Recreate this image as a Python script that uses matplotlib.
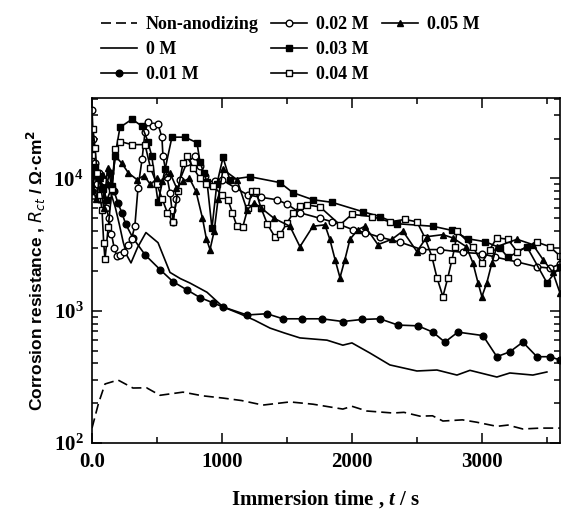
import numpy as np
import matplotlib
matplotlib.use('Agg')
import matplotlib.pyplot as plt
from matplotlib.ticker import MultipleLocator, LogLocator, NullFormatter
from matplotlib.lines import Line2D

plt.rcParams['font.family'] = 'Liberation Serif'
plt.rcParams['mathtext.fontset'] = 'custom'
plt.rcParams['mathtext.rm'] = 'Liberation Serif:bold'
plt.rcParams['mathtext.bf'] = 'Liberation Serif:bold'
plt.rcParams['mathtext.it'] = 'Liberation Serif:bold:italic'

# 数据
t_na = [0, 50, 100, 200, 315, 420, 523, 700, 850, 1010, 1150, 1315, 1523, 1700, 1930, 2000,
        2115, 2315, 2400, 2523, 2620, 2700, 2850, 2960, 3115, 3200, 3315, 3450, 3600]
r_na = [130, 200, 280, 300, 261, 262, 230, 243, 228, 219, 210, 194, 205, 197, 181, 190,
        175, 169, 171, 160, 161, 147, 150, 144, 134, 137, 128, 130, 130]

t_0 = [0, 30, 60, 90, 120, 150, 180, 210, 240, 270, 300, 350, 415, 508, 600, 680, 754, 885,
       1008, 1138, 1250, 1370, 1480, 1600, 1808, 1930, 2000, 2138, 2292, 2500, 2654, 2808,
       2908, 3115, 3215, 3392, 3500]
r_0 = [9000, 12000, 8000, 11000, 9000, 7500, 6000, 4500, 3300, 2600, 2300, 3000, 3900, 3270,
       1950, 1750, 1620, 1380, 1070, 950, 850, 740, 680, 624, 600, 550, 572, 480, 390, 351,
       357, 327, 355, 316, 339, 327, 345]

t_01 = [0, 25, 50, 80, 110, 140, 170, 200, 230, 260, 315, 408, 523, 623, 730, 830, 930, 1008,
        1192, 1346, 1470, 1615, 1770, 1930, 2077, 2215, 2354, 2508, 2623, 2715, 2815, 3008,
        3115, 3215, 3315, 3423, 3523, 3600]
r_01 = [8000, 11000, 7000, 10000, 9000, 11000, 8000, 6500, 5500, 4500, 3550, 2650, 2050, 1660,
        1440, 1260, 1150, 1070, 930, 950, 870, 870, 870, 830, 860, 870, 780, 770, 690, 580,
        690, 650, 450, 490, 580, 450, 450, 425]

t_02 = [0, 10, 20, 35, 50, 70, 90, 110, 130, 150, 170, 190, 215, 250, 277, 305, 330, 354, 385,
        408, 430, 470, 508, 538, 546, 577, 600, 615, 623, 650, 677, 730, 792, 830, 870, 910,
        950, 1000, 1100, 1200, 1300, 1423, 1500, 1600, 1754, 1850, 2008, 2100, 2215, 2370,
        2538, 2677, 2854, 3000, 3100, 3270, 3423, 3523, 3600]
r_02 = [33000, 20000, 13000, 9000, 11000, 7000, 9500, 6000, 5000, 3800, 3000, 2600, 2640, 2800,
        3150, 3500, 4400, 8500, 13900, 22500, 26500, 25000, 25700, 20400, 14700, 10300, 7800,
        5800, 4650, 7000, 9800, 13200, 14700, 12500, 10500, 9000, 9500, 9800, 8500, 7500, 7200,
        6900, 6400, 5500, 5000, 4700, 4100, 3900, 3600, 3300, 2900, 2900, 2760, 2700, 2550,
        2340, 2150, 2100, 2250]

t_03 = [0, 23, 60, 85, 115, 155, 177, 215, 308, 385, 430, 460, 508, 562, 615, 715, 808, 830,
        860, 885, 923, 960, 1008, 1060, 1215, 1446, 1546, 1700, 1846, 2085, 2215, 2346, 2623,
        2770, 2892, 3023, 3138, 3200, 3346, 3500, 3600]
r_03 = [11000, 12300, 10400, 8300, 6900, 8700, 14700, 24300, 28000, 24800, 19000, 14700, 6600,
        11700, 20500, 20500, 18600, 13400, 11000, 9400, 4200, 9000, 14400, 9800, 10300, 9300,
        7800, 6900, 6600, 5600, 5150, 4550, 4350, 4050, 3500, 3330, 3000, 2530, 3050, 1630,
        2150]

t_04 = [0, 8, 23, 40, 60, 77, 90, 100, 125, 154, 177, 215, 308, 408, 450, 500, 540, 580, 623,
        660, 700, 730, 780, 830, 880, 930, 1000, 1046, 1080, 1115, 1160, 1200, 1230, 1260,
        1300, 1350, 1408, 1450, 1500, 1550, 1600, 1654, 1754, 1908, 2000, 2154, 2292, 2408,
        2500, 2562, 2615, 2654, 2700, 2738, 2770, 2792, 2808, 2931, 3000, 3060, 3115, 3200,
        3270, 3423, 3523, 3600]
r_04 = [15000, 23600, 17000, 11000, 7500, 5800, 3250, 2450, 4300, 8300, 16700, 19000, 18000,
        18000, 12000, 9000, 7000, 5500, 4700, 8000, 13000, 14700, 12000, 10000, 9000, 8800,
        7500, 6900, 5500, 4350, 4300, 6000, 8000, 8000, 6000, 4500, 3600, 3800, 4600, 5500,
        6200, 6300, 6100, 4460, 5350, 5150, 4700, 4900, 4700, 3560, 2570, 1780, 1280, 1780,
        2440, 3050, 4000, 3050, 2300, 2900, 3560, 3470, 2800, 3300, 3050, 2600]

t_05 = [0, 30, 60, 90, 120, 150, 180, 230, 280, 346, 400, 450, 500, 538, 600, 650, 700, 750,
        800, 850, 880, 908, 940, 970, 1008, 1115, 1192, 1250, 1300, 1400, 1523, 1600, 1700,
        1792, 1830, 1870, 1908, 1946, 1985, 2046, 2100, 2200, 2308, 2392, 2500, 2577, 2700,
        2777, 2880, 2931, 2970, 3000, 3038, 3077, 3115, 3270, 3392, 3470, 3546, 3600]
r_05 = [9000, 7000, 10000, 6000, 12000, 9000, 14700, 13000, 11000, 9800, 10500, 9000, 10000,
        9500, 11000, 8500, 9500, 10000, 8000, 5000, 3500, 2900, 4000, 7000, 11700, 9800, 5800,
        6500, 6000, 5000, 4350, 3050, 4350, 4460, 3470, 2440, 1780, 2440, 3470, 4100, 4350,
        3160, 3470, 4000, 2800, 3630, 3760, 3550, 3050, 2300, 1630, 1280, 1630, 2300, 3050,
        3470, 3160, 2440, 1950, 1370]

fig = plt.figure(figsize=(5.61, 5.22), dpi=100)
ax = fig.add_axes([0.164, 0.151, 0.834, 0.661])

lw = 1.2
ms = 4.8
h_na, = ax.plot(t_na, r_na, 'k--', lw=lw, dashes=(6, 3))
h_0, = ax.plot(t_0, r_0, 'k-', lw=lw)
h_01, = ax.plot(t_01, r_01, 'k-', lw=lw, marker='o', ms=ms, mfc='k', mec='k')
h_02, = ax.plot(t_02, r_02, 'k-', lw=lw, marker='o', ms=ms, mfc='white', mec='k')
h_03, = ax.plot(t_03, r_03, 'k-', lw=lw, marker='s', ms=ms, mfc='k', mec='k')
h_04, = ax.plot(t_04, r_04, 'k-', lw=lw, marker='s', ms=ms, mfc='white', mec='k')
h_05, = ax.plot(t_05, r_05, 'k-', lw=lw, marker='^', ms=ms, mfc='k', mec='k')

ax.set_yscale('log')
ax.set_xlim(0, 3600)
ax.set_ylim(100, 40400)
ax.set_xticks([0, 1000, 2000, 3000])
ax.set_xticklabels(['0.0', '1000', '2000', '3000'], fontsize=15, fontweight='bold')
ax.xaxis.set_minor_locator(MultipleLocator(500))
ax.set_yticks([100, 1000, 10000])
ax.set_yticklabels([r'$10^{2}$', r'$10^{3}$', r'$10^{4}$'], fontsize=15)
ax.yaxis.set_minor_locator(LogLocator(base=10, subs=np.arange(2, 10)))
ax.yaxis.set_minor_formatter(NullFormatter())
ax.tick_params(which='both', direction='in', top=True, right=True, width=1.1)
ax.tick_params(which='major', length=7, pad=6)
ax.tick_params(which='minor', length=4)
for s in ax.spines.values():
    s.set_linewidth(1.2)

ax.set_xlabel(r'Immersion time , $\mathit{t}$ / s', fontsize=15, fontweight='bold', labelpad=12)
ax.set_ylabel(r'Corrosion resistance , $\mathit{R}_{\mathit{ct}}$ / Ω·cm$^{\mathbf{2}}$',
              fontsize=12.5, fontweight='bold', family='Liberation Sans',
              math_fontfamily='dejavusans', labelpad=4)

blank = Line2D([], [], color='none')
handles = [h_na, h_0, h_01, h_02, h_03, h_04, h_05, blank, blank]
labels = ['Non-anodizing', '0 M', '0.01 M', '0.02 M', '0.03 M', '0.04 M', '0.05 M', '', '']
fig.legend(handles, labels, ncol=3, loc='upper left', bbox_to_anchor=(0.16, 0.99),
           frameon=False, prop={'family': 'Liberation Serif', 'weight': 'bold', 'size': 13},
           handlelength=2.0, handletextpad=0.5, columnspacing=0.7, labelspacing=0.45,
           borderaxespad=0.2)

fig.savefig('out.png', dpi=100)
